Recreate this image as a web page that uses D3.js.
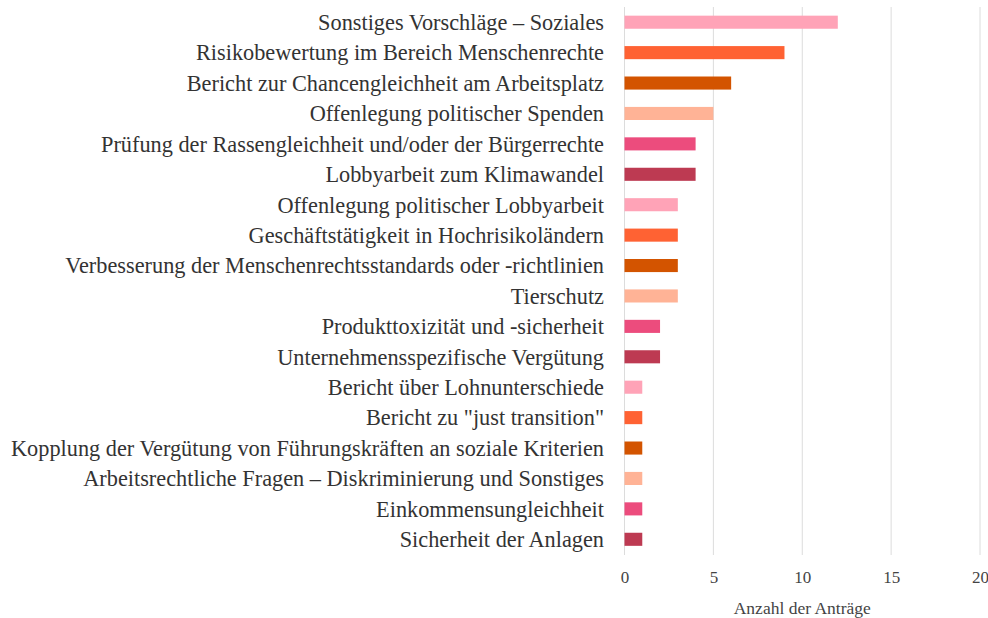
<!DOCTYPE html>
<html>
<head>
<meta charset="utf-8">
<script src="https://cdn.jsdelivr.net/npm/d3@7"></script>
<style>
  body { margin: 0; background: #fff; }
  text { font-family: "Liberation Serif", "DejaVu Serif", serif; }
</style>
</head>
<body>
<svg id="chart" width="988" height="618"></svg>
<script>
const categories = [
  "Sonstiges Vorschläge – Soziales",
  "Risikobewertung im Bereich Menschenrechte",
  "Bericht zur Chancengleichheit am Arbeitsplatz",
  "Offenlegung politischer Spenden",
  "Prüfung der Rassengleichheit und/oder der Bürgerrechte",
  "Lobbyarbeit zum Klimawandel",
  "Offenlegung politischer Lobbyarbeit",
  "Geschäftstätigkeit in Hochrisikoländern",
  "Verbesserung der Menschenrechtsstandards oder -richtlinien",
  "Tierschutz",
  "Produkttoxizität und -sicherheit",
  "Unternehmensspezifische Vergütung",
  "Bericht über Lohnunterschiede",
  "Bericht zu \"just transition\"",
  "Kopplung der Vergütung von Führungskräften an soziale Kriterien",
  "Arbeitsrechtliche Fragen – Diskriminierung und Sonstiges",
  "Einkommensungleichheit",
  "Sicherheit der Anlagen"
]
const values = [12, 9, 6, 5, 4, 4, 3, 3, 3, 3, 2, 2, 1, 1, 1, 1, 1, 1]
const xTicks = [0, 5, 10, 15, 20]
const palette = ["#ffa3b7", "#ff6233", "#d35400", "#ffb396", "#ec4c7d", "#bd3a52"]
const xTitle = "Anzahl der Anträge"

const svg = d3.select("#chart")

const xScale = d3.scaleLinear().domain([0, 20]).range([624.5, 980])
const yScale = d3.scaleBand().domain(categories).range([7, 554.5]).paddingInner(0.57).paddingOuter(0.285)

// gridlines
svg.append("g").selectAll("line")
  .data(xTicks)
  .enter()
  .append("line")
  .attr("x1", d => xScale(d)).attr("x2", d => xScale(d))
  .attr("y1", 7).attr("y2", 555)
  .attr("stroke", "#dcdcdc")
  .attr("stroke-width", 1)

// bars
svg.append("g").selectAll("rect")
  .data(values)
  .enter()
  .append("rect")
  .attr("x", xScale(0))
  .attr("y", (d, i) => yScale(categories[i]))
  .attr("width", d => xScale(d) - xScale(0))
  .attr("height", yScale.bandwidth())
  .attr("fill", (d, i) => palette[i % palette.length])

// category labels
svg.append("g").selectAll("text")
  .data(categories)
  .enter()
  .append("text")
  .attr("x", 604)
  .attr("y", d => yScale(d) + yScale.bandwidth() / 2)
  .attr("dy", "0.35em")
  .attr("text-anchor", "end")
  .attr("font-size", "22.3px")
  .attr("fill", "#333")
  .text(d => d)

// x axis tick labels
const xAxis = d3.axisBottom(xScale).tickValues(xTicks).tickSize(0).tickPadding(0)
const xAxisGroup = svg.append("g").attr("transform", "translate(0, 571)").call(xAxis)
xAxisGroup.select(".domain").remove()
xAxisGroup.selectAll("text")
  .attr("font-size", "17px")
  .attr("fill", "#444")
  .style("font-family", "'Liberation Serif', serif")

// axis title
svg.append("text")
  .attr("x", (xScale(0) + xScale(20)) / 2)
  .attr("y", 614)
  .attr("text-anchor", "middle")
  .attr("font-size", "17.5px")
  .attr("fill", "#444")
  .text(xTitle)
</script>
</body>
</html>
